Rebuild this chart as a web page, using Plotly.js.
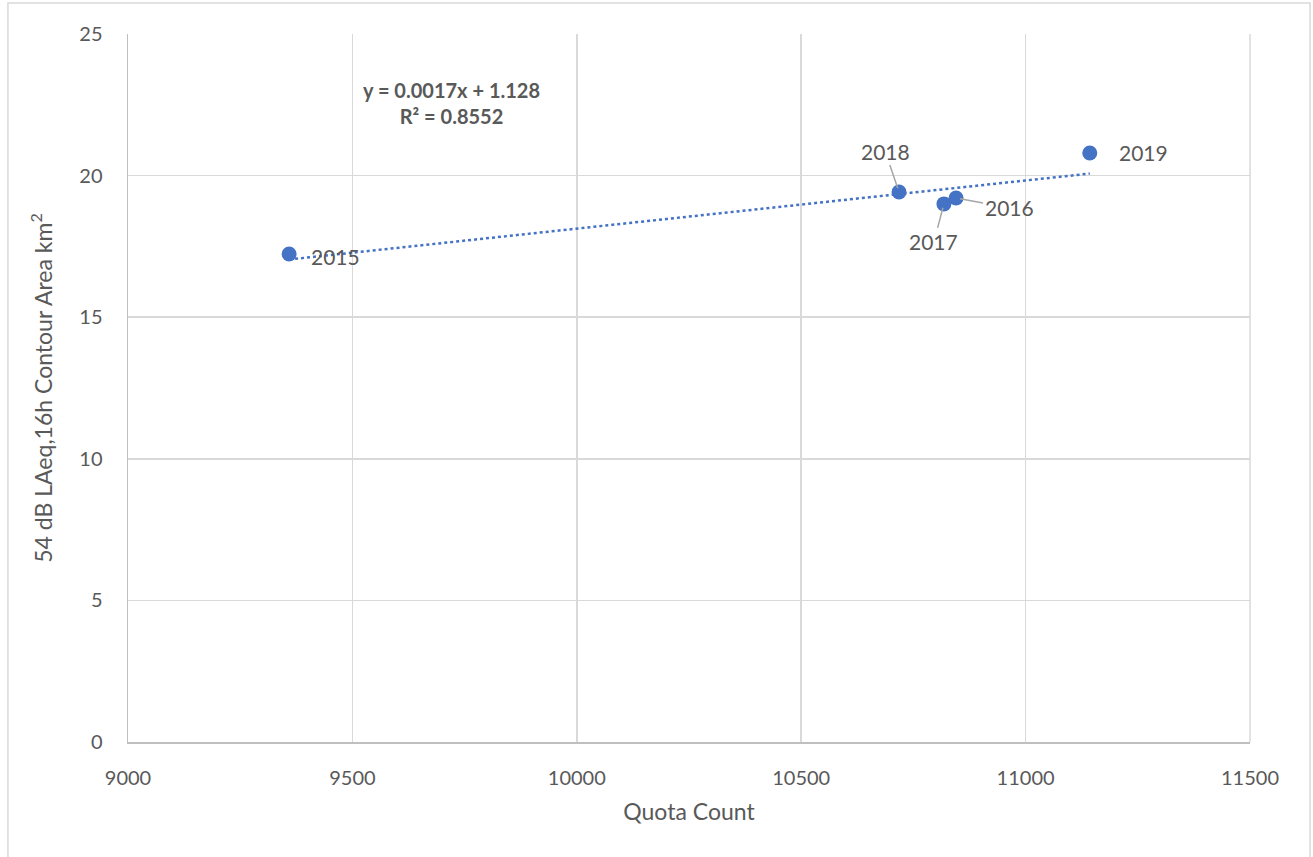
<!DOCTYPE html>
<html>
<head>
<meta charset="utf-8">
<script src="https://cdn.plot.ly/plotly-3.0.1.min.js"></script>
<style>html,body{margin:0;padding:0;background:#fff;}#chart{width:1313px;height:857px;}</style>
</head>
<body>
<div id="chart"></div>
<script>
const years = ["2015", "2016", "2017", "2018", "2019"];
const quotaCount = [9359, 10845, 10818, 10718, 11143];
const contourArea = [17.23, 19.21, 19.0, 19.42, 20.8];
const trendSlope = 0.0017;
const trendIntercept = 1.128;
const rSquared = 0.8552;
// label offsets (px) relative to each point
const labelOffsets = {
  "2015": {ax: 46, ay: 2, arrow: false},
  "2016": {ax: 53, ay: 10, arrow: true},
  "2017": {ax: -10, ay: 38, arrow: true},
  "2018": {ax: -14, ay: -41, arrow: true},
  "2019": {ax: 54, ay: 0, arrow: false}
};

const xMin = Math.min(...quotaCount), xMax = Math.max(...quotaCount);
const trendX = [xMin, xMax];
const trendY = trendX.map(v => trendSlope * v + trendIntercept);

const font = "Lato, 'Open Sans', 'Liberation Sans', sans-serif";
const grey = "#595959";

const annotations = years.map((yr, i) => {
  const o = labelOffsets[yr];
  if (o.arrow) {
    return {x: quotaCount[i], y: contourArea[i], xref: "x", yref: "y", text: yr,
      showarrow: true, arrowhead: 0, arrowwidth: 1.5, arrowcolor: "#a6a6a6",
      ax: o.ax, ay: o.ay, standoff: 4,
      font: {family: font, size: 21, color: grey}};
  }
  return {x: quotaCount[i], y: contourArea[i], xref: "x", yref: "y", text: yr,
    showarrow: false, xshift: o.ax, yshift: -o.ay,
    font: {family: font, size: 21, color: grey}};
});
annotations.push({
  x: 9720, y: 22.56, xref: "x", yref: "y", showarrow: false,
  text: "<b>y = " + trendSlope + "x + " + trendIntercept + "</b><br><b>R² = " + rSquared + "</b>",
  align: "center",
  font: {family: font, size: 20, color: grey}
});

const data = [
  {x: trendX, y: trendY, mode: "lines", type: "scatter",
   line: {color: "#4472C4", width: 2.5, dash: "dot"}, hoverinfo: "skip"},
  {x: quotaCount, y: contourArea, mode: "markers", type: "scatter",
   marker: {color: "#4472C4", size: 15}, text: years}
];

const layout = {
  width: 1313, height: 857,
  margin: {l: 128, r: 63, t: 34, b: 115},
  paper_bgcolor: "#fff", plot_bgcolor: "#fff",
  showlegend: false,
  font: {family: font, color: grey},
  xaxis: {
    range: [9000, 11500], dtick: 500, tick0: 9000, tickformat: "d",
    showgrid: true, gridcolor: "#d9d9d9", gridwidth: 1.5,
    showline: true, linecolor: "#bfbfbf", linewidth: 1.5,
    zeroline: false, ticks: "", ticklabelstandoff: 17,
    tickfont: {family: font, size: 20, color: grey},
    title: {text: "Quota Count", font: {family: font, size: 23, color: grey}, standoff: 16},
    automargin: false
  },
  yaxis: {
    range: [0, 25], dtick: 5, tickformat: "d",
    showgrid: true, gridcolor: "#d9d9d9", gridwidth: 1.5,
    showline: true, linecolor: "#bfbfbf", linewidth: 1.5,
    zeroline: false, ticks: "", ticklabelstandoff: 20,
    tickfont: {family: font, size: 20, color: grey},
    title: {text: "54 dB LAeq,16h Contour Area km<sup>2</sup>", font: {family: font, size: 23, color: grey}, standoff: 20},
    automargin: false
  },
  annotations: annotations,
  shapes: [
    {type: "line", xref: "paper", yref: "paper", x0: 1, x1: 1, y0: 0, y1: 1,
     line: {color: "#d9d9d9", width: 1.5}, layer: "below"},
    {type: "rect", xref: "paper", yref: "paper", x0: -0.107, x1: 1.0535, y0: -0.17, y1: 1.0438,
     line: {color: "#d9d9d9", width: 1.5}, fillcolor: "rgba(0,0,0,0)", layer: "below"}
  ]
};

Plotly.newPlot("chart", data, layout, {displayModeBar: false, staticPlot: true});
</script>
</body>
</html>
